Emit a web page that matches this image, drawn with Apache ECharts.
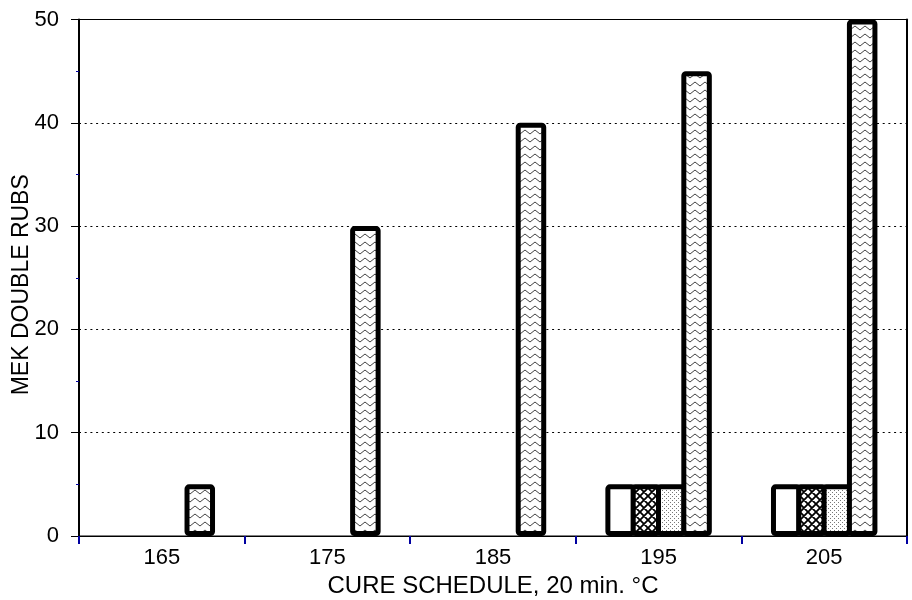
<!DOCTYPE html>
<html>
<head>
<meta charset="utf-8">
<script src="https://cdn.jsdelivr.net/npm/echarts@6/dist/echarts.min.js"></script>
<style>html,body{margin:0;padding:0;background:#fff;}#c{width:912px;height:600px;}</style>
</head>
<body>
<div id="c"></div>
<script>
const categories = ['165', '175', '185', '195', '205'];
const seriesOpen = ['-', '-', '-', 5, 5];
const seriesCross = ['-', '-', '-', 5, 5];
const seriesDots = ['-', '-', '-', 5, 5];
const seriesZigzag = [5, 30, 40, 45, 50];
const yTicks = { min: 0, max: 50, interval: 10 };
const xTitle = 'CURE SCHEDULE, 20 min. °C';
const yTitle = 'MEK DOUBLE RUBS';

function tile(w, h, draw) {
  const c = document.createElement('canvas');
  c.width = w; c.height = h;
  const g = c.getContext('2d');
  g.fillStyle = '#fff'; g.fillRect(0, 0, w, h);
  draw(g);
  return { image: c, repeat: 'repeat' };
}
const patWhite = '#ffffff';
const patCross = tile(8, 8, g => {
  g.strokeStyle = '#000'; g.lineWidth = 1.8;
  g.beginPath();
  g.moveTo(-2, -2); g.lineTo(10, 10);
  g.moveTo(-2, 6); g.lineTo(2, 10);
  g.moveTo(6, -2); g.lineTo(10, 2);
  g.moveTo(10, -2); g.lineTo(-2, 10);
  g.moveTo(2, -2); g.lineTo(-2, 2);
  g.moveTo(10, 6); g.lineTo(6, 10);
  g.stroke();
});
const patDots = tile(4, 4, g => {
  g.fillStyle = '#777';
  g.fillRect(0, 0, 1, 1); g.fillRect(2, 2, 1, 1);
});
const patZig = tile(10, 8, g => {
  g.strokeStyle = '#444'; g.lineWidth = 1;
  g.beginPath();
  g.moveTo(0, 6); g.lineTo(5, 2); g.lineTo(10, 6);
  g.stroke();
});

const chart = echarts.init(document.getElementById('c'), null, { renderer: 'canvas' });
const font = 'Liberation Sans, Arial, sans-serif';
const barStyle = (fill) => ({
  color: fill, borderColor: '#000', borderWidth: 5, borderRadius: 2, borderJoin: 'round'
});
const mk = (name, data, fill) => ({
  name, type: 'bar', data, barWidth: 30.5, barGap: '-17%',
  itemStyle: barStyle(fill), silent: true
});

chart.setOption({
  animation: false,
  backgroundColor: '#fff',
  grid: { left: 79, right: 5, top: 19.5, bottom: 64, outerBoundsMode: 'none', containLabel: false,
          show: true, borderColor: '#000', borderWidth: 1, backgroundColor: 'transparent' },
  xAxis: {
    type: 'category', data: categories,
    name: xTitle, nameLocation: 'middle', nameGap: 38, nameMoveOverlap: false,
    nameTextStyle: { fontFamily: font, fontSize: 24, color: '#000' },
    axisLine: { lineStyle: { color: '#000', width: 1 } },
    axisTick: { show: true, length: 8, lineStyle: { color: '#0000a0', width: 2 } },
    axisLabel: { fontFamily: font, fontSize: 22, color: '#000', margin: 11 },
    splitLine: { show: false }
  },
  yAxis: [{
    type: 'value', min: yTicks.min, max: yTicks.max, interval: yTicks.interval,
    name: yTitle, nameLocation: 'middle', nameGap: 46, nameMoveOverlap: false,
    nameTextStyle: { fontFamily: font, fontSize: 23, color: '#000', padding: [0, 14, 0, 0] },
    axisLine: { show: true, lineStyle: { color: '#000', width: 2 } },
    axisTick: { show: true, length: 8, lineStyle: { color: '#000', width: 1 } },
    minorTick: { show: true, splitNumber: 2, length: 3, lineStyle: { color: '#0000a0', width: 1 } },
    axisLabel: { fontFamily: font, fontSize: 22, color: '#000', margin: 20 },
    splitLine: { show: true, lineStyle: { color: '#000', width: 1, type: [2, 3.7] } }
  }, {
    type: 'value', position: 'right', min: yTicks.min, max: yTicks.max, interval: yTicks.interval,
    axisLine: { show: true, lineStyle: { color: '#000', width: 2 } },
    axisTick: { show: false }, axisLabel: { show: false }, splitLine: { show: false }
  }],
  series: [
    mk('A', seriesOpen, patWhite),
    mk('B', seriesCross, patCross),
    mk('C', seriesDots, patDots),
    mk('D', seriesZigzag, patZig)
  ]
});
</script>
</body>
</html>
